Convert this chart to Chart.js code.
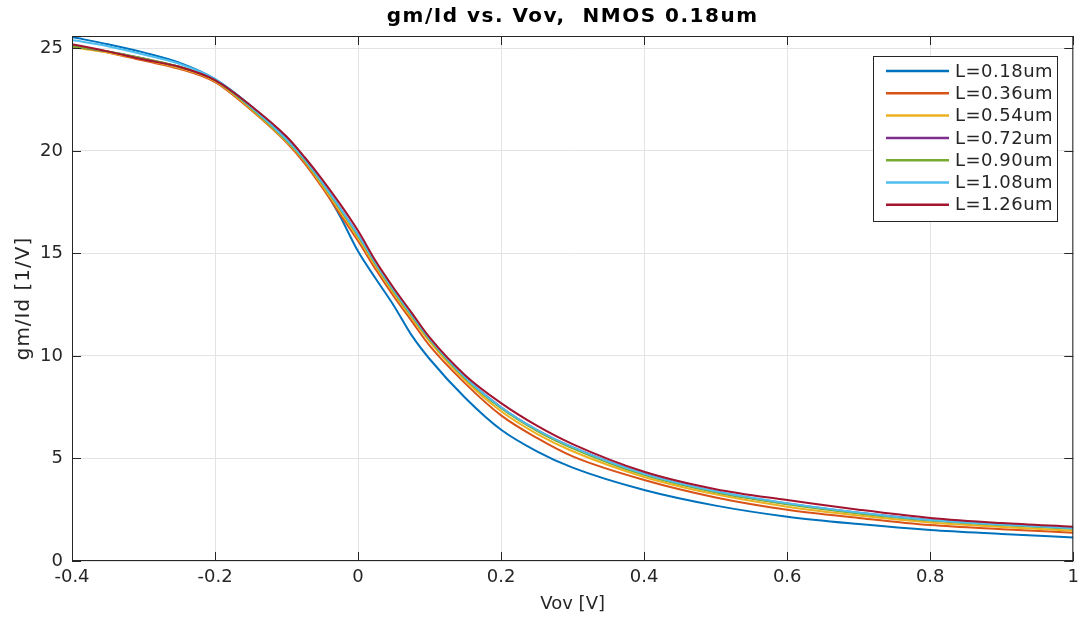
<!DOCTYPE html>
<html>
<head>
<meta charset="utf-8">
<script src="https://cdn.jsdelivr.net/npm/chart.js@4.4.1/dist/chart.umd.min.js"></script>
<style>
  html, body { margin: 0; padding: 0; background: #fff; }
  #wrap { width: 1085px; height: 622px; position: relative; }
</style>
</head>
<body>
<div id="wrap"><canvas id="mainChart"></canvas></div>
<script>
// --- DATA ---
const vov = [-0.4, -0.35, -0.3, -0.25, -0.2, -0.15, -0.1, -0.075, -0.05, -0.025, 0, 0.025, 0.05, 0.075, 0.1, 0.15, 0.2, 0.25, 0.3, 0.4, 0.5, 0.6, 0.7, 0.8, 0.9, 1.0];

const L018 = [25.55, 25.2, 24.8, 24.3, 23.5, 22.2, 20.6, 19.6, 18.3, 16.8, 15.1, 13.75, 12.45, 11.0, 9.85, 7.95, 6.4, 5.35, 4.55, 3.46, 2.7, 2.16, 1.8, 1.51, 1.32, 1.15];
const L036 = [25.1, 24.8, 24.4, 24.0, 23.35, 22.0, 20.4, 19.4, 18.2, 16.9, 15.6, 14.2, 12.9, 11.7, 10.5, 8.65, 7.1, 6.0, 5.1, 3.95, 3.1, 2.5, 2.1, 1.75, 1.55, 1.38];
const L054 = [25.05, 24.8, 24.45, 24.05, 23.4, 22.05, 20.45, 19.5, 18.3, 17.05, 15.75, 14.35, 13.05, 11.85, 10.7, 8.8, 7.3, 6.2, 5.35, 4.1, 3.25, 2.65, 2.22, 1.88, 1.66, 1.47];
const L072 = [25.1, 24.85, 24.5, 24.1, 23.45, 22.15, 20.55, 19.6, 18.45, 17.2, 15.9, 14.5, 13.2, 12.0, 10.85, 8.95, 7.5, 6.4, 5.55, 4.25, 3.38, 2.8, 2.35, 2.0, 1.78, 1.6];
const L090 = [25.1, 24.85, 24.5, 24.1, 23.45, 22.1, 20.5, 19.55, 18.4, 17.15, 15.85, 14.45, 13.15, 11.95, 10.8, 8.9, 7.45, 6.35, 5.5, 4.2, 3.35, 2.77, 2.32, 1.97, 1.75, 1.57];
const L108 = [25.4, 25.1, 24.7, 24.25, 23.5, 22.15, 20.55, 19.6, 18.45, 17.2, 15.9, 14.5, 13.2, 12.0, 10.85, 8.95, 7.5, 6.4, 5.55, 4.25, 3.4, 2.82, 2.37, 2.0, 1.78, 1.6];
const L126 = [25.2, 24.85, 24.45, 24.1, 23.45, 22.2, 20.7, 19.7, 18.6, 17.4, 16.1, 14.6, 13.3, 12.1, 10.9, 9.05, 7.7, 6.6, 5.7, 4.35, 3.5, 2.97, 2.5, 2.1, 1.85, 1.67];

const seriesNames = ['L=0.18um', 'L=0.36um', 'L=0.54um', 'L=0.72um', 'L=0.90um', 'L=1.08um', 'L=1.26um'];
const seriesData = [L018, L036, L054, L072, L090, L108, L126];
const seriesColors = ['#0072BD', '#D95319', '#EDB120', '#7E2F8E', '#77AC30', '#4DBEEE', '#A2142F'];

const xTicks = [-0.4, -0.2, 0, 0.2, 0.4, 0.6, 0.8, 1];
const yTicks = [0, 5, 10, 15, 20, 25];

const TXT = '#262626';
const FONT = 'DejaVu Sans';

function fmtTick(v) {
    return String(Number(v.toFixed(2)));
}

// --- PLUGINS ---
// box round the axes with ticks pointing inward, like the original
const framePlugin = {
    id: 'frame',
    afterDatasetsDraw(chart) {
        const { ctx, chartArea: a, scales: { x, y } } = chart;
        const tl = 9;
        ctx.save();
        ctx.strokeStyle = TXT;
        ctx.lineWidth = 1;
        ctx.strokeRect(a.left + 0.5, a.top + 0.5, a.right - a.left - 1, a.bottom - a.top - 1);
        ctx.beginPath();
        xTicks.forEach(v => {
            const px = Math.round(x.getPixelForValue(v)) + 0.5;
            ctx.moveTo(px, a.bottom); ctx.lineTo(px, a.bottom - tl);
            ctx.moveTo(px, a.top); ctx.lineTo(px, a.top + tl);
        });
        yTicks.forEach(v => {
            const py = Math.round(y.getPixelForValue(v)) + 0.5;
            ctx.moveTo(a.left, py); ctx.lineTo(a.left + tl, py);
            ctx.moveTo(a.right, py); ctx.lineTo(a.right - tl, py);
        });
        ctx.stroke();
        ctx.restore();
    }
};

// title, y label and the boxed legend in the top right corner
const overlayPlugin = {
    id: 'overlay',
    afterDraw(chart) {
        const { ctx, chartArea: a } = chart;
        ctx.save();
        ctx.fillStyle = '#000';
        ctx.font = `bold 20px "${FONT}"`;
        ctx.letterSpacing = '1.5px';
        ctx.textAlign = 'center';
        ctx.textBaseline = 'middle';
        ctx.fillText('gm/Id vs. Vov,  NMOS 0.18um', (a.left + a.right) / 2, 17);

        // y label
        ctx.save();
        ctx.translate(24, (a.top + a.bottom) / 2);
        ctx.rotate(-Math.PI / 2);
        ctx.fillStyle = TXT;
        ctx.font = `20px "${FONT}"`;
        ctx.letterSpacing = '1px';
        ctx.fillText('gm/Id [1/V]', 0, 0);
        ctx.restore();

        const bx = 873, by = 56, bw = 184, bh = 165;
        ctx.fillStyle = '#fff';
        ctx.fillRect(bx, by, bw, bh);
        ctx.strokeStyle = TXT;
        ctx.lineWidth = 1;
        ctx.strokeRect(bx + 0.5, by + 0.5, bw, bh);

        ctx.font = `18px "${FONT}"`;
        ctx.letterSpacing = '0.5px';
        ctx.textAlign = 'left';
        seriesNames.forEach((name, i) => {
            const ry = 71 + i * 22.3;
            ctx.strokeStyle = seriesColors[i];
            ctx.lineWidth = 2.5;
            ctx.beginPath();
            ctx.moveTo(886, ry); ctx.lineTo(949, ry);
            ctx.stroke();
            ctx.fillStyle = TXT;
            ctx.fillText(name, 955, ry + 1);
        });
        ctx.restore();
    }
};

// --- CHART ---
const datasets = seriesNames.map((name, i) => ({
    label: name,
    data: vov.map((v, j) => ({ x: v, y: seriesData[i][j] })),
    borderColor: seriesColors[i],
    backgroundColor: seriesColors[i],
    borderWidth: 2,
    pointRadius: 0,
    cubicInterpolationMode: 'monotone',
    order: seriesNames.length - i
}));

new Chart(document.getElementById('mainChart').getContext('2d'), {
    type: 'line',
    data: { datasets },
    options: {
        responsive: true,
        maintainAspectRatio: false,
        animation: false,
        layout: { padding: { top: 36, right: 8, left: 0, bottom: 0 } },
        plugins: { legend: { display: false }, title: { display: false }, tooltip: { enabled: false } },
        scales: {
            x: {
                type: 'linear',
                min: -0.4,
                max: 1,
                afterFit: s => { s.height = 61; },
                afterBuildTicks: s => { s.ticks = xTicks.map(v => ({ value: v })); },
                grid: { color: '#e3e3e3', drawTicks: false },
                border: { display: false },
                ticks: { padding: 6, color: TXT, font: { family: FONT, size: 18 }, callback: v => fmtTick(v), maxRotation: 0 },
                title: { display: true, text: 'Vov [V]', color: TXT, font: { family: FONT, size: 18 }, padding: { top: 0, bottom: 7 } }
            },
            y: {
                type: 'linear',
                min: 0,
                max: 25.6,
                afterFit: s => { s.width = 72; },
                afterBuildTicks: s => { s.ticks = yTicks.map(v => ({ value: v })); },
                grid: { color: '#e3e3e3', drawTicks: false },
                border: { display: false },
                ticks: { padding: 9, color: TXT, font: { family: FONT, size: 18 }, callback: v => fmtTick(v) },
                title: { display: false }
            }
        }
    },
    plugins: [framePlugin, overlayPlugin]
});
</script>
</body>
</html>
